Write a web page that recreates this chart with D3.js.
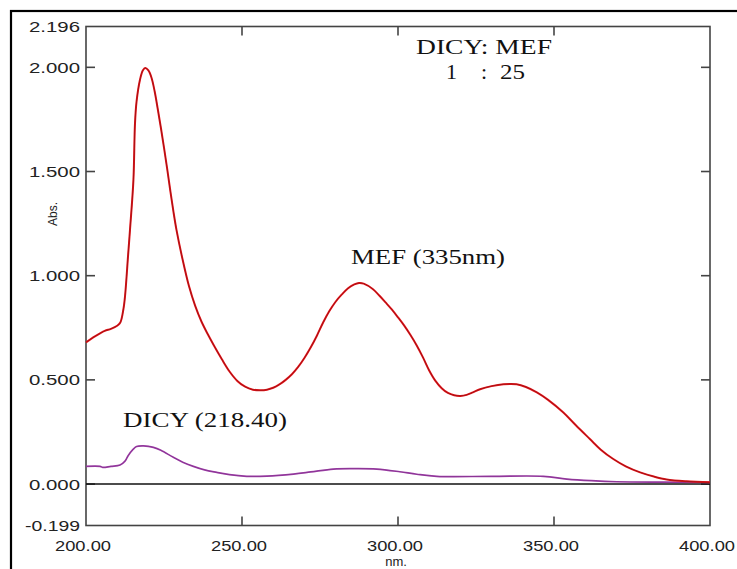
<!DOCTYPE html>
<html>
<head>
<meta charset="utf-8">
<script src="https://cdn.jsdelivr.net/npm/d3@7"></script>
<style>
  html, body { margin: 0; padding: 0; background: #fff; }
  svg { display: block; }
</style>
</head>
<body>
<svg id="chart" width="737" height="569"></svg>
<script>
// Wavelength (nm) / absorbance pairs for the two spectra
const mefWavelength = [200, 203, 206, 208, 210, 211, 212, 212.5, 213.5, 214.1, 215.2, 215.7, 216.2, 217.3, 218.2, 219, 220, 221, 222, 223, 224, 225, 226, 227, 228, 229, 231, 233, 235, 237, 239, 241, 243.5, 246, 248.5, 251, 253.5, 256, 258, 260, 262, 264, 266, 268, 270, 272, 274, 276, 278, 280, 282, 284, 286, 287.5, 289, 292, 294, 296, 298, 300, 302, 304, 306, 308, 310, 312, 314, 316, 318, 320, 322, 324, 326.3, 330, 333.8, 338, 341, 344.5, 348, 353, 357, 361.5, 365, 369, 373, 377.6, 382, 386.1, 392.5, 400];
const mefAbs = [0.68, 0.71, 0.735, 0.745, 0.76, 0.775, 0.84, 0.90, 1.10, 1.22, 1.46, 1.73, 1.835, 1.94, 1.985, 1.997, 1.985, 1.95, 1.885, 1.80, 1.71, 1.615, 1.515, 1.41, 1.31, 1.22, 1.075, 0.95, 0.855, 0.78, 0.72, 0.665, 0.60, 0.54, 0.495, 0.467, 0.453, 0.450, 0.453, 0.462, 0.478, 0.50, 0.527, 0.562, 0.605, 0.655, 0.712, 0.775, 0.83, 0.875, 0.91, 0.94, 0.958, 0.965, 0.962, 0.935, 0.905, 0.872, 0.838, 0.80, 0.76, 0.715, 0.665, 0.608, 0.545, 0.495, 0.46, 0.437, 0.426, 0.423, 0.428, 0.44, 0.455, 0.47, 0.479, 0.479, 0.466, 0.44, 0.405, 0.343, 0.282, 0.216, 0.165, 0.12, 0.085, 0.056, 0.036, 0.022, 0.013, 0.008];

const dicyWavelength = [200, 204.5, 205.4, 208, 210.9, 212.5, 213.5, 215, 216.2, 218.4, 220, 221.6, 224, 228, 231, 234.4, 238, 241.9, 246, 251.5, 258, 266.5, 272, 279.3, 286, 293.2, 300.6, 306, 312.4, 330, 346.6, 354.1, 362, 370.1, 385, 400];
const dicyAbs = [0.085, 0.085, 0.08, 0.085, 0.091, 0.11, 0.136, 0.165, 0.18, 0.183, 0.181, 0.176, 0.162, 0.128, 0.105, 0.085, 0.068, 0.056, 0.045, 0.037, 0.038, 0.048, 0.058, 0.072, 0.074, 0.072, 0.059, 0.047, 0.037, 0.037, 0.037, 0.024, 0.016, 0.011, 0.009, 0.008];

const xTicks = [200, 250, 300, 350, 400];
const xTickLabels = ["200.00", "250.00", "300.00", "350.00", "400.00"];
const yTicks = [-0.199, 0, 0.5, 1.0, 1.5, 2.0, 2.196];
const yTickLabels = ["-0.199", "0.000", "0.500", "1.000", "1.500", "2.000", "2.196"];

const svg = d3.select("#chart");
const plotLeft = 86, plotRight = 710, plotTop = 26.5, plotBottom = 525.5;

const x = d3.scaleLinear().domain([200, 400]).range([plotLeft, plotRight]);
const y = d3.scaleLinear().domain([-0.199, 2.196]).range([plotBottom, plotTop]);

// Outer frame of the figure
svg.append("rect")
  .attr("x", 11).attr("y", 11).attr("width", 740).attr("height", 570)
  .attr("fill", "none").attr("stroke", "#000").attr("stroke-width", 2.2);

// Plot frame
svg.append("rect")
  .attr("x", plotLeft).attr("y", plotTop)
  .attr("width", plotRight - plotLeft).attr("height", plotBottom - plotTop)
  .attr("fill", "none").attr("stroke", "#444").attr("stroke-width", 1.6);

const tickLen = 9;
const innerX = xTicks.filter(d => d > 200 && d < 400);
const innerY = yTicks.filter(d => d > -0.199 && d < 2.196);

// Inward ticks on all four sides
svg.append("g").selectAll("line").data(innerX).join("line")
  .attr("x1", d => x(d)).attr("x2", d => x(d))
  .attr("y1", plotBottom).attr("y2", plotBottom - tickLen)
  .attr("stroke", "#444").attr("stroke-width", 1.6);
svg.append("g").selectAll("line").data(innerX).join("line")
  .attr("x1", d => x(d)).attr("x2", d => x(d))
  .attr("y1", plotTop).attr("y2", plotTop + tickLen)
  .attr("stroke", "#444").attr("stroke-width", 1.6);
svg.append("g").selectAll("line").data(innerY).join("line")
  .attr("x1", plotLeft).attr("x2", plotLeft + tickLen)
  .attr("y1", d => y(d)).attr("y2", d => y(d))
  .attr("stroke", "#444").attr("stroke-width", 1.6);
svg.append("g").selectAll("line").data(innerY).join("line")
  .attr("x1", plotRight).attr("x2", plotRight - tickLen)
  .attr("y1", d => y(d)).attr("y2", d => y(d))
  .attr("stroke", "#444").attr("stroke-width", 1.6);

// Zero baseline
svg.append("line")
  .attr("x1", plotLeft).attr("x2", plotRight)
  .attr("y1", y(0)).attr("y2", y(0))
  .attr("stroke", "#111").attr("stroke-width", 1.5);

// Tick labels
const tickFont = "Liberation Sans, Arial, sans-serif";
svg.append("g").selectAll("text").data(yTicks).join("text")
  .attr("x", 80).attr("y", d => y(d) + 5.5)
  .attr("text-anchor", "end")
  .attr("font-family", tickFont).attr("font-size", 15)
  .attr("fill", "#222")
  .attr("textLength", (d, i) => yTickLabels[i].length === 6 ? 55 : 51)
  .attr("lengthAdjust", "spacingAndGlyphs")
  .text((d, i) => yTickLabels[i]);

svg.append("g").selectAll("text").data(xTicks).join("text")
  .attr("x", d => x(d) - 3).attr("y", 551)
  .attr("text-anchor", "middle")
  .attr("font-family", tickFont).attr("font-size", 15)
  .attr("fill", "#222")
  .attr("textLength", 56)
  .attr("lengthAdjust", "spacingAndGlyphs")
  .text((d, i) => xTickLabels[i]);

// Axis titles
svg.append("text")
  .attr("x", 396).attr("y", 566)
  .attr("text-anchor", "middle")
  .attr("font-family", tickFont).attr("font-size", 13)
  .attr("fill", "#222")
  .text("nm.");
svg.append("text")
  .attr("transform", "translate(57,214) rotate(-90)")
  .attr("text-anchor", "middle")
  .attr("font-family", tickFont).attr("font-size", 12)
  .attr("fill", "#222")
  .text("Abs.");

// Spectra
const line = d3.line().x(d => x(d[0])).y(d => y(d[1])).curve(d3.curveCatmullRom.alpha(0.5));
const mef = d3.zip(mefWavelength, mefAbs);
const dicy = d3.zip(dicyWavelength, dicyAbs);

svg.append("path").datum(dicy).attr("d", line)
  .attr("fill", "none").attr("stroke", "#a040aa").attr("stroke-width", 1.7);
svg.append("path").datum(dicy).attr("d", line)
  .attr("fill", "none").attr("stroke", "#5a1a60").attr("stroke-width", 0.5).attr("opacity", 0.6);

svg.append("path").datum(mef).attr("d", line)
  .attr("fill", "none").attr("stroke", "#e8141a").attr("stroke-width", 2);
svg.append("path").datum(mef).attr("d", line)
  .attr("fill", "none").attr("stroke", "#6a1010").attr("stroke-width", 0.7).attr("opacity", 0.75);

// Annotations
const serif = "Liberation Serif, Times New Roman, serif";
function note(text, xPos, yPos, len) {
  svg.append("text")
    .attr("x", xPos).attr("y", yPos)
    .attr("font-family", serif).attr("font-size", 22)
    .attr("fill", "#111")
    .attr("textLength", len).attr("lengthAdjust", "spacingAndGlyphs")
    .text(text);
}
note("DICY: MEF", 416, 53.5, 136);
note("MEF (335nm)", 351, 263.5, 154);
note("DICY (218.40)", 123, 427, 164);

const ratio = svg.append("g")
  .attr("font-family", serif).attr("font-size", 22).attr("fill", "#111");
ratio.append("text").attr("x", 446).attr("y", 79).text("1");
ratio.append("text").attr("x", 481).attr("y", 79).text(":");
ratio.append("text").attr("x", 500).attr("y", 79)
  .attr("textLength", 25).attr("lengthAdjust", "spacingAndGlyphs").text("25");
</script>
</body>
</html>
